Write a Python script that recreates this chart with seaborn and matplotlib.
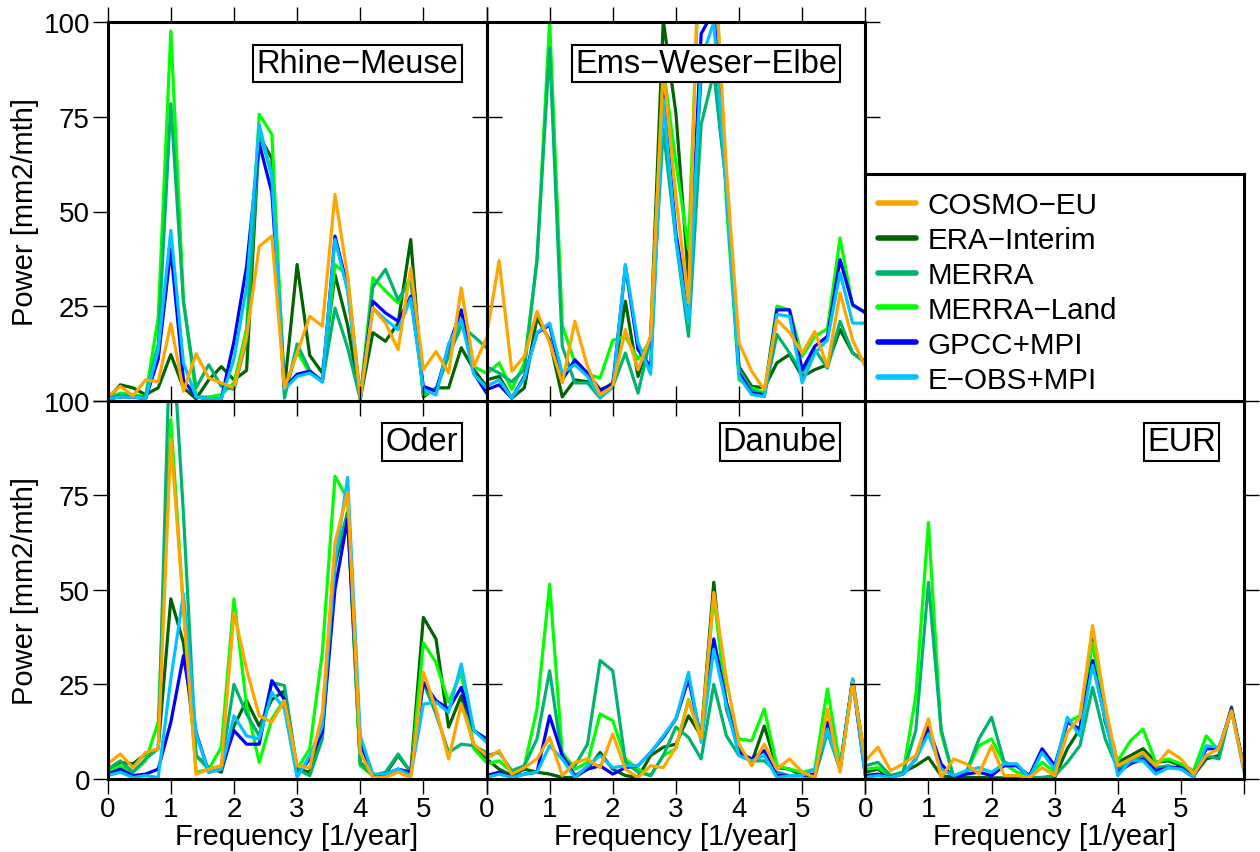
import numpy as np
import pandas as pd
import matplotlib
matplotlib.use("Agg")
import matplotlib.pyplot as plt
import seaborn as sns
from matplotlib.lines import Line2D

# ---------------- data ----------------
FREQ = [0.0, 0.2, 0.4, 0.6, 0.8, 1.0, 1.2, 1.4, 1.6, 1.8,
        2.0, 2.2, 2.4, 2.6, 2.8, 3.0, 3.2, 3.4, 3.6, 3.8,
        4.0, 4.2, 4.4, 4.6, 4.8, 5.0, 5.2, 5.4, 5.6, 5.8, 6.0]

PRODUCTS = ["COSMO\u2212EU", "ERA\u2212Interim", "MERRA", "MERRA\u2212Land", "GPCC+MPI", "E\u2212OBS+MPI"]
COLORS = ["#FFA500", "#006400", "#00B46E", "#00FF00", "#0000FF", "#00C3FF"]
REGIONS = ["Rhine\u2212Meuse", "Ems\u2212Weser\u2212Elbe", "Oder", "Danube", "EUR"]
X_TICK_LABELS = ["0", "1", "2", "3", "4", "5", ""]
Y_TICKS = [0, 25, 50, 75, 100]

# Rhine-Meuse
rm_cosmo = [1.1, 3.8, 1.3, 5.5, 5.0, 20.4, 2.5, 12.4, 6.0, 4.7, 3.4, 17, 40.8, 43.5, 3.4, 12.6, 22.3, 19.7, 54.5, 32.9, 0.7, 24.5, 20.5, 13.5, 35, 8.2, 13, 7.3, 29.8, 9, 16.6]
rm_era = [0.5, 4.2, 3.4, 1.6, 3.4, 12.2, 3.4, 0.5, 5.5, 9, 5.5, 8, 70, 64, 3.4, 36, 12, 7.3, 33.3, 20, 0.5, 18, 15.7, 20.5, 42.6, 1, 3.4, 3.4, 14, 8.2, 3.8]
rm_merra = [0.5, 1.5, 1, 1, 15, 78.5, 26, 3.4, 9.5, 3.8, 3, 16, 71, 60, 0.7, 15, 8, 5, 24.5, 14, 0.5, 30, 34.7, 26.7, 32, 2, 3, 12, 19.7, 17, 14]
rm_merral = [0.7, 2, 1.6, 1.1, 22, 97.7, 26.7, 1, 1, 1.6, 4.7, 19, 75.7, 70.4, 2, 13, 7.3, 5.5, 36, 33, 0.7, 32.5, 29, 25.8, 33, 1.5, 3, 12, 21, 9, 7.3]
rm_gpcc = [0.5, 1, 1, 0.5, 11, 40, 5.5, 1, 0.5, 0.5, 15.7, 35.5, 68, 55, 3.4, 7, 7.8, 5, 43.5, 30, 0.5, 26.3, 23.2, 21, 27.6, 3.8, 2.5, 14.4, 24, 7.3, 2]
rm_eobs = [0.5, 1, 1, 0.5, 13.5, 45, 10, 1, 0.5, 0.5, 11, 30, 73, 59, 3, 6.4, 7.3, 5, 42.6, 29, 0.5, 24.5, 21.4, 18.8, 27, 3, 1.5, 15, 21.4, 7, 3.4]

# Ems-Weser-Elbe
ewe_cosmo = [17, 37, 7.8, 11.7, 23.6, 15.3, 4.7, 21, 9, 1.6, 3.8, 18.8, 8.2, 17, 87.6, 54, 25.8, 145, 120, 61, 15.3, 7.8, 2.9, 21.4, 18, 12.6, 18.3, 9, 28.5, 16, 9]
ewe_era = [5.5, 6.4, 0.7, 3.4, 21.9, 16, 1, 5.5, 5, 2.5, 4.7, 26.3, 6.4, 17, 100.5, 76, 32, 86, 88, 57, 9, 3.8, 3.4, 10, 12.2, 6.4, 8.2, 9.5, 18.8, 12.6, 10.4]
ewe_merra = [9, 7.3, 5, 8.2, 37.3, 93.3, 14.4, 4.7, 4.7, 0.7, 3.8, 12.6, 2, 16.6, 71.7, 42.6, 17, 73, 86.7, 56.7, 8.2, 2.9, 1.1, 17.5, 12.6, 7.3, 13.5, 8.6, 21, 12.6, 10]
ewe_merral = [7, 10, 3, 10, 37, 100.5, 20, 10, 7, 6, 16, 17, 11, 16, 88, 63, 40, 130, 125, 52, 5.5, 3.4, 2, 25, 24, 11.7, 17, 19, 43, 25, 23.6]
ewe_gpcc = [2.9, 4.2, 0.7, 6.4, 17.9, 20, 5.5, 10.8, 7.3, 2.9, 4.2, 35.5, 13.5, 9, 81.4, 44.4, 24, 97, 103, 56.7, 7.3, 2, 1.6, 24, 24, 8.2, 14.4, 17, 37.3, 25.4, 23.2]
ewe_eobs = [3.8, 5.5, 0.7, 6, 18, 20.5, 7.3, 9.5, 6.4, 1, 3.4, 36, 15.3, 7, 79.6, 42.6, 20.5, 90, 100, 55, 6.4, 1.6, 1.1, 22.8, 22.3, 4.7, 12.6, 16, 33.8, 20.5, 20.5]

# Oder
od_cosmo = [4, 6.6, 3, 7, 8, 89.8, 45, 1.3, 2.6, 3.5, 44, 29, 16.7, 15, 20.7, 3.5, 3, 17.6, 62.5, 75.7, 7, 0.4, 0.4, 1.8, 0.4, 28.2, 18.5, 5.3, 19.8, 9.2, 6.2]
od_era = [2.6, 4.4, 4, 6.6, 8, 47.6, 36, 6.2, 3, 1.8, 14, 20.7, 14, 21, 23.3, 2.6, 1.8, 14, 56.4, 70.5, 4.4, 0.9, 1.3, 6.2, 1.8, 42.7, 37, 13.7, 22, 8.8, 5.3]
od_merra = [2.6, 4.8, 1.8, 5.3, 8, 125, 70, 6.2, 2.6, 3.5, 25, 17.2, 11.4, 25.5, 24.7, 2.6, 0.9, 10.6, 59, 69.6, 4, 0.9, 1.8, 6.6, 1.8, 25.5, 17.2, 7, 9.2, 8.8, 7]
od_merral = [1.8, 3.5, 1.8, 4.8, 15, 95, 45, 1.8, 2.6, 8.4, 47.6, 19.4, 4.4, 15.9, 21, 2.6, 8, 33.5, 80, 74, 3.5, 0.9, 0.9, 2.6, 0.9, 36, 30.8, 20.3, 28.2, 8, 4.4]
od_gpcc = [1.3, 2.6, 0.9, 1.3, 2.6, 15, 32.6, 12.3, 1.8, 2.6, 12.8, 9.2, 9.2, 26, 21, 0.9, 5.3, 12.3, 50.2, 68.7, 9.7, 0.9, 1.3, 2.6, 1.8, 25.5, 20.7, 18.5, 24.2, 12.8, 10.6]
od_eobs = [0.9, 1.8, 0.4, 0.9, 0.4, 26.4, 48.9, 11.9, 1.8, 2.6, 16.7, 11.4, 10.6, 22.9, 18.5, 0.4, 6.2, 14, 57, 79.7, 11.4, 1.3, 1.3, 2.6, 0.9, 19.8, 20.3, 17.6, 30.4, 12.8, 9.7]

# Danube
da_cosmo = [5.3, 7.5, 1.3, 3, 5.3, 11, 0.9, 4.4, 5.3, 3, 11.9, 2.6, 0.4, 3.5, 3, 8.4, 20.7, 10.6, 49.3, 26.4, 9.2, 3.5, 9.2, 2.6, 5.3, 1.8, 0.4, 18.5, 1.8, 25.5, 4.8]
da_era = [5.3, 2.6, 0.9, 2.6, 1.8, 1.3, 0.4, 0.4, 2.6, 7, 2.6, 0.9, 0.4, 6.2, 8.4, 9.2, 16.7, 11.4, 52, 18.5, 8, 4.4, 14, 3, 2.6, 0.9, 0.9, 13.2, 2.6, 26.4, 4.4]
da_merra = [6.2, 7, 2.2, 3.5, 10.6, 28.6, 5.3, 3.5, 9.2, 31.3, 28.6, 4.4, 1.8, 0.9, 6.2, 13.7, 11, 5.3, 25, 11.4, 6.2, 4.8, 4.8, 1.8, 0.9, 0.9, 0.5, 12.3, 2.6, 26, 3]
da_merral = [4, 4.8, 1.8, 3.5, 18.5, 51.5, 7, 2.6, 4.4, 17.2, 15.4, 5.3, 2.6, 0.9, 6.2, 8, 21, 10.6, 48.4, 20.3, 10.6, 10.1, 18.5, 3.5, 2.6, 1.8, 2.6, 23.8, 3.5, 26, 4]
da_gpcc = [0.9, 1.8, 0.4, 1.3, 1.8, 16.7, 6.2, 0.9, 2.6, 3.5, 1.3, 3, 3.5, 7, 11, 15.9, 26.4, 10.6, 37, 20.3, 7, 5.3, 7.5, 0.9, 0.9, 0.9, 1.3, 15, 2.6, 26, 0.9]
da_eobs = [0.4, 1.3, 0.4, 1.3, 1.8, 8.8, 5.3, 0.4, 3.5, 6.2, 3, 3.5, 3.5, 7, 11.4, 15.9, 28.2, 9.7, 34.3, 19.4, 6.2, 4.8, 6.2, 0.4, 0.9, 0.9, 2.6, 13.2, 2.6, 26.4, 0.9]

# EUR
eu_cosmo = [4.8, 8.4, 2.2, 4, 6.2, 15.9, 0.4, 5.3, 4, 1.3, 8.8, 0.9, 0.9, 0.4, 3, 0.9, 12.3, 16.3, 40.5, 19.4, 3.5, 5.3, 7, 3.5, 7.5, 5.3, 1.3, 6.2, 8, 18, 2.6]
eu_era = [1.8, 2.6, 0.4, 1.8, 3.5, 5.7, 0.9, 0.4, 0.4, 0.4, 0.3, 0.3, 0.3, 0.3, 0.4, 0.4, 8, 13.2, 37, 15, 4.4, 6.2, 8, 4.4, 4.8, 3.5, 0.9, 5.3, 6.2, 19, 2.6]
eu_merra = [3.5, 4.4, 0.9, 1.8, 12.8, 52, 13.2, 0.2, 1.8, 10.6, 16.3, 4.4, 3.5, 0.4, 0.4, 0.9, 4.4, 8.8, 24.2, 10.6, 2.6, 4.8, 6.2, 3, 3.5, 2.6, 1.8, 6.2, 5.3, 18.5, 2.6]
eu_merral = [2.6, 3, 0.9, 1.8, 22, 67.8, 12.3, 0.4, 1.8, 8.8, 10.6, 4, 1.8, 0.9, 4.4, 1.8, 15, 16.7, 36, 16.7, 4.8, 10.1, 13.2, 4.4, 5.3, 4, 2.2, 11.4, 7.5, 18.5, 2.6]
eu_gpcc = [0.9, 1.3, 0.4, 1.3, 5.3, 13.7, 4, 0.4, 1.3, 1.8, 0.9, 3.5, 3.5, 0.9, 8, 3.5, 15, 13.2, 31.3, 15.9, 1.8, 4, 5.3, 2.2, 3, 3, 0.4, 8, 8, 18.5, 2.6]
eu_eobs = [0.4, 0.9, 0.4, 1.3, 5.3, 11.9, 2.6, 0.9, 2.2, 3, 1.8, 4, 4, 0.4, 7, 2.6, 16.3, 11.4, 30, 15.9, 0.9, 4.8, 4.8, 1.3, 3, 2.6, 0.4, 8.8, 8.4, 18, 1.8]

PANEL_SERIES = {
    REGIONS[0]: [rm_cosmo, rm_era, rm_merra, rm_merral, rm_gpcc, rm_eobs],
    REGIONS[1]: [ewe_cosmo, ewe_era, ewe_merra, ewe_merral, ewe_gpcc, ewe_eobs],
    REGIONS[2]: [od_cosmo, od_era, od_merra, od_merral, od_gpcc, od_eobs],
    REGIONS[3]: [da_cosmo, da_era, da_merra, da_merral, da_gpcc, da_eobs],
    REGIONS[4]: [eu_cosmo, eu_era, eu_merra, eu_merral, eu_gpcc, eu_eobs],
}

# ---------------- style ----------------
sns.set_theme(style="white")
plt.rcParams["font.family"] = ["Liberation Sans", "DejaVu Sans"]
plt.rcParams["axes.unicode_minus"] = True
for key in ["text.color", "axes.labelcolor", "xtick.color", "ytick.color", "axes.edgecolor"]:
    plt.rcParams[key] = "black"

W, H = 1260, 853
fig = plt.figure(figsize=(W / 100, H / 100), dpi=100)
fig.patch.set_facecolor("white")

COL_LEFT = [107.7, 486.5, 865.3]
PANEL_W = 378.8
ROW_TOP = [23.3, 401.6]
PANEL_H = 378.4
TITLE_FS = 23.5
TITLE_PAD_PX = 0.1 * TITLE_FS * 100 / 72

palette = dict(zip(PRODUCTS, COLORS))
draw_order = [PRODUCTS[1], PRODUCTS[3], PRODUCTS[2], PRODUCTS[4], PRODUCTS[5], PRODUCTS[0]]

layout = {REGIONS[0]: (0, 0), REGIONS[1]: (0, 1), REGIONS[2]: (1, 0), REGIONS[3]: (1, 1), REGIONS[4]: (1, 2)}


def make_ax(row, col):
    left = COL_LEFT[col] / W
    bottom = 1 - (ROW_TOP[row] + PANEL_H) / H
    return fig.add_axes([left, bottom, PANEL_W / W, PANEL_H / H])


for region, (row, col) in layout.items():
    ax = make_ax(row, col)
    series = PANEL_SERIES[region]
    frames = []
    for name, vals in zip(PRODUCTS, series):
        frames.append(pd.DataFrame({"freq": FREQ, "power": vals, "product": name}))
    df = pd.concat(frames, ignore_index=True)
    sns.lineplot(data=df, x="freq", y="power", hue="product", hue_order=draw_order,
                 palette=palette, linewidth=2.3, legend=False, ax=ax,
                 estimator=None, sort=False)
    ax.set_xlim(0, 6)
    ax.set_ylim(0, 100)
    ax.set_xlabel("")
    ax.set_ylabel("")
    ax.set_facecolor("none")
    for sp in ax.spines.values():
        sp.set_visible(True)
        sp.set_linewidth(2.2)
        sp.set_color("black")
        sp.set_zorder(5)
    ax.set_xticks(range(7))
    ax.set_yticks(Y_TICKS)
    ax.tick_params(axis="both", which="both", direction="out", length=10.8, width=1.0,
                   color="black", top=True, right=True, bottom=True, left=True,
                   labelsize=20, labelcolor="black")
    ax.tick_params(axis="x", pad=1.5)
    ax.tick_params(axis="y", pad=2.0)
    if row == 1:
        ax.set_xticklabels(X_TICK_LABELS)
        ax.set_xlabel("Frequency [1/year]", fontsize=21, labelpad=0, color="black")
    else:
        ax.set_xticklabels([])
    if col == 0:
        if row == 0:
            ax.set_yticklabels(["", "25", "50", "75", "100"])
        else:
            ax.set_yticklabels(["0", "25", "50", "75", "100"])
    else:
        ax.set_yticklabels([])
    tx = 1 - (25 + TITLE_PAD_PX) / PANEL_W
    ty = 1 - (22.5 + TITLE_PAD_PX) / PANEL_H
    ax.text(tx, ty, region, transform=ax.transAxes, ha="right", va="top",
            fontsize=TITLE_FS, zorder=6, color="black",
            bbox=dict(boxstyle="square,pad=0.1", fc="white", ec="black", lw=1.5))

# y labels
for row in range(2):
    yc = 1 - (ROW_TOP[row] + PANEL_H / 2) / H
    fig.text(25 / W, yc, "Power [mm2/mth]", rotation=90, ha="center", va="center",
             fontsize=21, color="black")

# legend box
leg_top = 175.0
leg_ax = fig.add_axes([COL_LEFT[2] / W, 1 - ROW_TOP[1] / H, PANEL_W / W, (ROW_TOP[1] - leg_top) / H])
leg_ax.set_xticks([])
leg_ax.set_yticks([])
leg_ax.set_facecolor("white")
for sp in leg_ax.spines.values():
    sp.set_visible(True)
    sp.set_linewidth(2.2)
    sp.set_color("black")
handles = [Line2D([0], [0], color=c, lw=4.0) for c in COLORS]
leg = leg_ax.legend(handles, PRODUCTS, loc="upper left", bbox_to_anchor=(0.0335, 0.925),
                    frameon=False, fontsize=21.3, handlelength=1.28, handletextpad=0.4,
                    labelspacing=0.235, borderpad=0, borderaxespad=0)
for t in leg.get_texts():
    t.set_color("black")

fig.savefig("out.png", dpi=100, facecolor="white")
